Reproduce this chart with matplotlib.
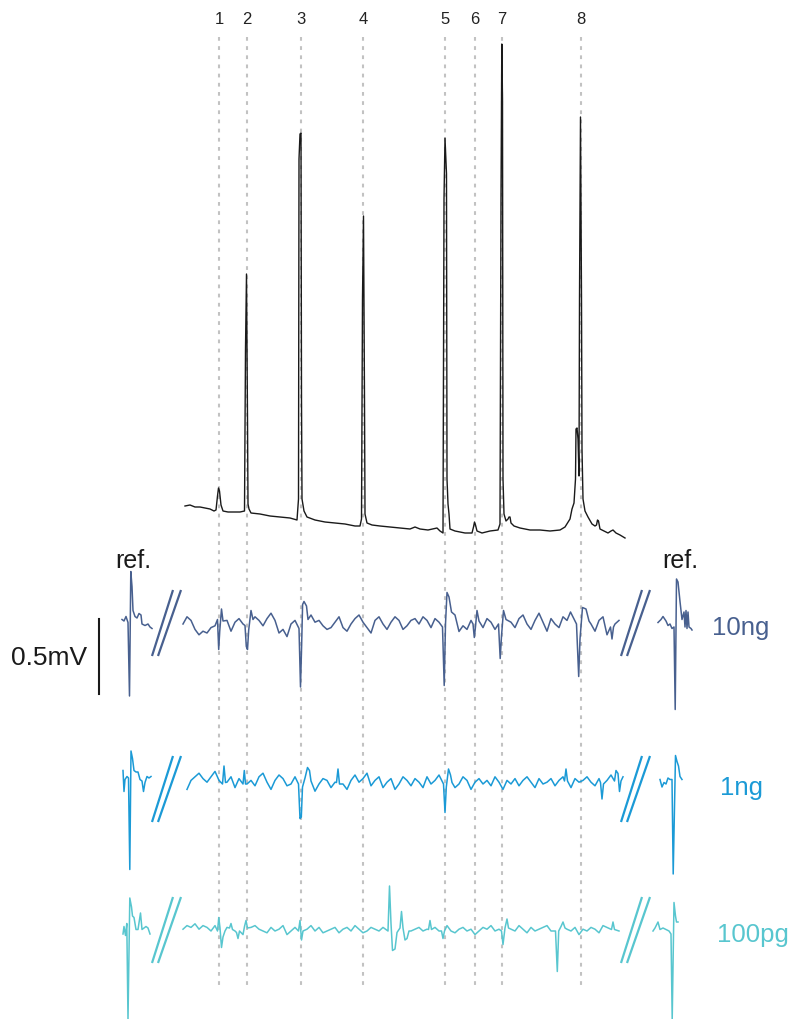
import matplotlib.pyplot as plt
import numpy as np

plt.rcParams['font.family'] = ['Liberation Sans', 'DejaVu Sans']

# peak labels / retention positions (same x units as the traces)
peak_labels = ['1', '2', '3', '4', '5', '6', '7', '8']
peak_times = [219, 247, 301, 363, 445, 475, 502, 581]

# chromatogram: time, response (a.u.)
chrom_t = [185, 190, 195, 200, 205, 210, 214, 216, 217.5, 218.5, 219.5, 221, 223, 228, 234, 240,
           244.5, 245.5, 246.5, 247.5, 248, 249, 251, 260, 270, 280, 290, 297, 298.5, 299, 300,
           301, 301.5, 302, 304, 307, 315, 325, 335, 345, 355, 360, 361.5, 362.5, 363.5, 364.5,
           365, 367, 372, 380, 390, 400, 410, 415, 420, 428, 437, 440, 443, 444, 445, 446.5, 447,
           448, 449, 450, 455, 465, 472, 473.5, 474.5, 475.5, 477, 482, 490, 498, 500, 501,
           501.8, 502.5, 503, 504, 506, 508, 509, 510, 511, 514, 520, 530, 540, 550, 560, 565,
           570, 572, 574, 575.5, 576, 577, 578, 579, 579.5, 580.5, 581.5, 582, 583, 585, 588,
           592, 595, 596.5, 597.5, 598.5, 600, 604, 608, 611, 613, 616, 620, 625]
chrom_resp = [33, 34, 32, 32, 31, 30, 28, 29, 43, 51, 48, 34, 28, 27, 27, 27,
              28, 190, 265, 120, 35, 30, 26, 25, 23, 22, 21, 19, 40, 380, 405,
              406, 140, 40, 28, 22, 19, 17, 16, 15, 13, 13, 20, 240, 323, 140,
              25, 16, 14, 13, 12, 11, 10, 12, 10, 9, 11, 8, 6, 340, 401, 365, 60,
              35, 25, 10, 8, 6, 6, 12, 17, 14, 8, 6, 8, 9, 15, 340,
              495, 440, 60, 25, 18, 20, 22, 22, 16, 13, 11, 9, 9, 8, 9, 12,
              20, 30, 36, 60, 110, 111, 100, 63, 240, 422, 240, 90, 40, 28, 22,
              15, 13, 14, 19, 18, 10, 8, 6, 8, 9, 6, 4, 1]

trace_names = ['10ng', '1ng', '100pg']
trace_colors = ['#48608f', '#1b9ad6', '#58c6cf']

# baseline noise of the main segments, units of 0.012 mV, one value per 4 time units
noise_10ng = [0, 4, 2, -3, -6, -4, -5, -2, -1, 3,
              5, 2, -4, 1, 3, 0, -3, -2, 4, 2,
              -1, 3, 6, 2, -5, -3, -7, 0, 2, 4,
              3, 3, 5, 1, 2, -1, -3, -2, 1, 4,
              -2, -4, 0, 3, 5, 1, -2, -5, 2, 4,
              0, -3, 1, 4, 2, -3, -1, 2, 3, 0,
              4, 2, -2, 3, 1, -4, -2, 2, 5, 3,
              -1, -3, 2, 4, 0, -2, 3, 1, -3, -5,
              2, 4, 1, -2, 3, 5, 0, -3, 2, 6,
              1, -4, 3, 0, -2, 4, 2, -1, 1, 3,
              -2, 3, 0, -4, 2, 4, -6, -3, 0, 2]
noise_1ng = [-3, 2, 4, 6, 3, 1, 4, 7, 2, -1,
             1, 4, -2, 3, 5, 0, 2, -1, 4, 6,
             1, -3, 2, 5, 3, -1, 0, 4, 2, -2,
             3, 1, -4, 0, 3, 2, -2, 1, 4, 0,
             -3, 2, 5, 1, 3, 6, -1, 2, 4, -2,
             1, 3, -3, 0, 4, 2, -1, 3, 1, -2,
             4, 0, 2, 5, -1, 1, 3, -2, 0, 4,
             2, -3, 1, 3, 0, 2, -1, 4, 1, -3,
             2, 0, 3, -1, 2, 4, 1, -2, 3, 0,
             1, 3, -1, 2, 4, 0, -2, 3, 1, 2,
             4, 1, -1, 3, 0, 2, 5, 1, 3, 4]
noise_100pg = [1, 3, 2, 4, 1, 3, 2, 0, 3, 1,
               -1, 2, 4, 0, 1, -2, 0, 2, 3, 1,
               0, -1, 2, 0, 1, 3, -2, 0, 2, 1,
               -1, 1, 3, 0, 2, -1, 0, 1, 2, -1,
               1, 2, 0, 3, 1, -1, 0, 2, 1, 0,
               2, -1, 1, 3, 0, 1, -2, 0, 1, 2,
               0, 1, -1, 2, 0, 1, 3, 0, -1, 1,
               2, 0, 1, -2, 0, 2, 1, 3, 0, 1,
               -1, 2, 1, 0, 3, 1, -1, 2, 0, 1,
               2, 3, 0, 1, -1, 2, 1, 0, 2, -2,
               1, 0, 2, 1, -1, 3, 2, 0, 1, 0]
noise_unit = 0.012

# EAD responses (time, mV)
events_10ng = [
    [(217.5, 0.03), (218.7, -0.17), (219.7, -0.05), (221.5, 0.10), (223, 0.02)],
    [(245, -0.01), (246.3, -0.15), (247.5, -0.17), (248.7, -0.04), (251, 0.09), (253, 0.03)],
    [(299, -0.03), (300.5, -0.42), (301.6, -0.15), (302.6, 0.13), (304, 0.15), (306.5, 0.12), (308, 0.03)],
    [(442.5, -0.02), (444.2, -0.41), (445.5, 0.0), (447, 0.21), (449, 0.18), (451.5, 0.08), (455, 0.06), (459, -0.05)],
    [(473, 0.0), (474.3, -0.09), (475.3, -0.03), (477, 0.09), (479, 0.02)],
    [(498.5, 0.0), (500.2, -0.23), (501.5, -0.08), (503.5, 0.09), (506, 0.03)],
    [(570.5, 0.08), (576.5, 0.0), (578.7, -0.35), (580, -0.10), (582.5, 0.11), (586, 0.10), (589, 0.02)],
    [(610.5, -0.02), (612, -0.10), (613.5, -0.02)],
]
events_1ng = [
    [(222.5, 0.0), (224, 0.12), (225.5, 0.01)],
    [(243, 0.0), (244.3, 0.09), (245.5, 0.0)],
    [(298.5, 0.0), (300, -0.23), (301.3, -0.22), (302.5, -0.02), (305, 0.04), (307.5, 0.11), (309.5, 0.09), (311, 0.02)],
    [(336.5, 0.01), (338, 0.10), (339.5, 0.0)],
    [(443.5, 0.0), (445, -0.19), (446.3, -0.02), (448.5, 0.10), (450.5, 0.06), (452, 0.01)],
    [(564.5, 0.02), (566, 0.10), (567.5, 0.02)],
    [(600.5, 0.01), (602, -0.10), (603.5, 0.0)],
    [(614.5, 0.02), (616, 0.09), (618, 0.07), (619.5, -0.05), (621, 0.02)],
]
events_100pg = [
    [(217.5, 0.0), (218.8, 0.09), (220, 0.02), (221.5, -0.11), (223, -0.04), (225, 0.0)],
    [(229.5, 0.02), (231, 0.05), (232.5, 0.01)],
    [(236.5, -0.01), (238, -0.05), (239.5, 0.0)],
    [(244.5, 0.03), (246, 0.07), (247.5, 0.02)],
    [(298.5, 0.0), (300, 0.07), (301.5, -0.06), (303, 0.0)],
    [(388, 0.0), (389.5, 0.30), (391, 0.05), (392.5, -0.13), (395, -0.12), (397, -0.01), (400, 0.02),
     (401.5, 0.13), (403, 0.02), (405, -0.06), (407, -0.05), (409, 0.0)],
    [(428.5, 0.01), (430, 0.07), (431.5, 0.01)],
    [(441.5, 0.0), (443, -0.05), (444.5, 0.0)],
    [(501.5, 0.0), (503, -0.09), (505, 0.02), (507, 0.08), (508.5, 0.02)],
    [(555.5, 0.0), (557.3, -0.27), (558.7, 0.0), (561, 0.03), (563, 0.06), (565, 0.02)],
    [(611.5, 0.01), (613, 0.06), (614.5, 0.01)],
]

# reference stimulus segments (time, mV)
ref_left = [
    [(122, 0.03), (124, 0.02), (126, 0.05), (128, 0.01), (129.5, -0.48), (130.8, 0.35), (132, 0.25),
     (133, 0.09), (135, 0.05), (137, 0.04), (139, 0.07), (141, 0.06), (142, 0.0), (145, -0.01),
     (148, 0.0), (150, -0.02), (152, -0.03)],
    [(123, 0.09), (124, -0.05), (125, 0.03), (127, 0.05), (128.5, 0.04), (129.8, -0.57), (131, 0.22),
     (132.5, 0.17), (134, 0.09), (136, 0.08), (138, 0.08), (140, 0.03), (142, 0.02), (143.5, -0.05),
     (145, 0.01), (147, 0.05), (149, 0.04), (151, 0.05)],
    [(123, -0.02), (124, 0.03), (125.5, -0.03), (126.8, 0.05), (128, -0.59), (129.8, 0.22), (131.5, 0.16),
     (132.5, 0.10), (134, 0.09), (136, 0.01), (138, 0.01), (140.5, 0.12), (142, 0.01), (144, 0.02),
     (146, 0.03), (148, 0.02), (150, -0.02)],
]
ref_right = [
    [(658, 0.01), (661, 0.03), (663, 0.05), (666, 0.02), (668, -0.01), (670, 0.0), (672, -0.03),
     (674, -0.02), (675.2, -0.57), (676.5, 0.30), (678, 0.28), (680, 0.15), (682, 0.03), (684, 0.08),
     (685, -0.02), (686, 0.09), (687, -0.03), (688, 0.08), (689, -0.02), (691, -0.03), (692, -0.04)],
    [(660, 0.03), (662, -0.02), (664, 0.01), (666, 0.0), (668, 0.04), (670, 0.03), (672, 0.03),
     (673.2, -0.60), (675.5, 0.19), (677, 0.15), (678.5, 0.12), (680, 0.05), (682, 0.03)],
    [(653, 0.0), (655, 0.02), (658, 0.06), (660, 0.01), (663, 0.02), (666, 0.01), (669, 0.0),
     (671, -0.02), (672.2, -0.59), (674, 0.19), (675.5, 0.10), (676.5, 0.06), (678, 0.06)],
]

noises = [noise_10ng, noise_1ng, noise_100pg]
events = [events_10ng, events_1ng, events_100pg]

# layout (figure pixel units)
base_y = [625, 785, 932]
main_start = [183, 187, 183]
step = 4
px_per_mv = 150
chrom_zero = 540

fig = plt.figure(figsize=(7.9, 10.2), dpi=100)
ax = fig.add_axes([0, 0, 1, 1])
ax.set_xlim(0, 790)
ax.set_ylim(1020, 0)
ax.axis('off')

# dashed guide lines + numbers
for lab, t in zip(peak_labels, peak_times):
    ax.plot([t, t], [38, 990], color='#c2c2c2', lw=1.5, ls=(0, (1.8, 2.6)), zorder=1)
    ax.text(t, 20, lab, ha='center', va='center', fontsize=12, color='#222222')

# FID trace
ax.plot(chrom_t, chrom_zero - np.array(chrom_resp), color='#1a1a1a', lw=1.0, zorder=3)

for i in range(3):
    col = trace_colors[i]
    b = base_y[i]
    nz = np.array(noises[i]) * noise_unit
    tn = main_start[i] + step * np.arange(len(nz))
    keep = np.ones(len(tn), bool)
    ev_t, ev_v = [], []
    for g in events[i]:
        gt = [p[0] for p in g]
        keep &= ~((tn >= min(gt) - 1) & (tn <= max(gt) + 1))
        ev_t += gt
        ev_v += [p[1] for p in g]
    t_all = np.concatenate([tn[keep], ev_t])
    v_all = np.concatenate([nz[keep], ev_v])
    o = np.argsort(t_all)
    ax.plot(t_all[o], b - v_all[o] * px_per_mv, color=col, lw=1.1, zorder=3)

    for seg in (ref_left[i], ref_right[i]):
        st = [p[0] for p in seg]
        sv = np.array([p[1] for p in seg])
        ax.plot(st, b - sv * px_per_mv, color=col, lw=1.1, zorder=3)

    # break marks
    cy = b - 1 if i != 1 else b + 5
    for x0, x1 in [(152, 173), (158, 181), (621, 642), (627, 650)]:
        ax.plot([x0, x1], [cy + 33, cy - 33], color=col, lw=1.6, solid_capstyle='butt')

    lx = [741, 741, 753][i]
    ax.text(lx, b + 3, trace_names[i], ha='center', va='center', fontsize=18.5, color=col)

ax.text(133, 561, 'ref.', ha='center', va='center', fontsize=18, color='#1a1a1a')
ax.text(680, 561, 'ref.', ha='center', va='center', fontsize=18, color='#1a1a1a')

# scale bar
ax.plot([99, 99], [620, 620 + 0.5 * px_per_mv], color='#1a1a1a', lw=1.5)
ax.text(49, 658, '0.5mV', ha='center', va='center', fontsize=19, color='#1a1a1a')

fig.savefig('out.png', dpi=100)
